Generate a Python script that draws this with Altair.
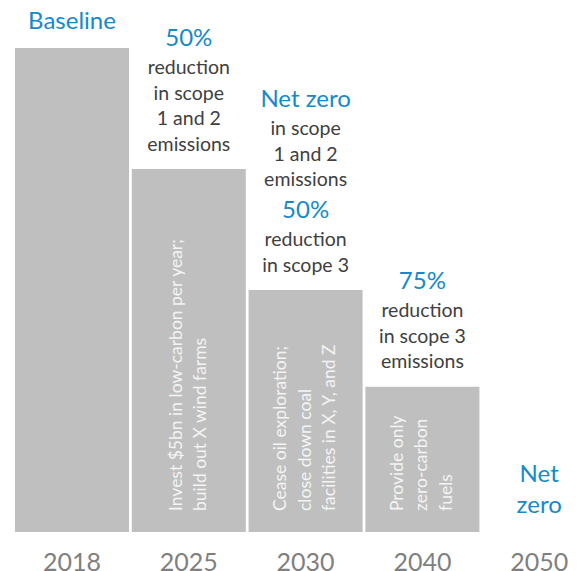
import altair as alt
import pandas as pd

FONT = "Lato"

years = ["2018", "2025", "2030", "2040", "2050"]
values = [100, 75, 50, 30, 0]

bar_lines_2025 = ["Invest $5bn in low-carbon per year;", "build out X wind farms"]
bar_lines_2030 = ["Cease oil exploration;", "close down coal", "facilities in X, Y, and Z"]
bar_lines_2040 = ["Provide only", "zero-carbon", "fuels"]

note_2018 = [("Baseline", "hl")]
note_2025 = [("50%", "hl"), ("reduction", "tx"), ("in scope", "tx"), ("1 and 2", "tx"), ("emissions", "tx")]
note_2030 = [("Net zero", "hl"), ("in scope", "tx"), ("1 and 2", "tx"), ("emissions", "tx"),
             ("50%", "hl"), ("reduction", "tx"), ("in scope 3", "tx")]
note_2040 = [("75%", "hl"), ("reduction", "tx"), ("in scope 3", "tx"), ("emissions", "tx")]
note_2050 = [("Net", "hl"), ("zero", "hl")]

BAR = "#bfbfbf"
BLUE = "#1589c9"
DARK = "#404040"
AXIS = "#7f7f7f"
LINE_H = 24.5

bars_df = pd.DataFrame({"year": years, "value": values})

inbar = {"2025": bar_lines_2025, "2030": bar_lines_2030, "2040": bar_lines_2040}

# stack annotation lines upward from the bar top (layout only)
notes = {"2018": note_2018, "2025": note_2025, "2030": note_2030, "2040": note_2040, "2050": note_2050}
rows = []
for y, v in zip(years, values):
    lines = notes[y]
    off = None
    prev_kind = None
    for text, kind in reversed(lines):
        if off is None:
            off = 24.5 if kind == "tx" else 26
        else:
            if kind == "tx" and prev_kind == "tx":
                off += 25.5
            elif kind == "hl" and prev_kind == "tx":
                off += 29
            else:
                off += 31
        rows.append({"year": y, "value": v, "text": text,
                     "color": BLUE if kind == "hl" else DARK,
                     "size": 24 if kind == "hl" else 19.5,
                     "off": off})
        prev_kind = kind
notes_df = pd.DataFrame(rows)

xenc = alt.X("year:N", sort=years,
             scale=alt.Scale(range=[0, 581.2], paddingInner=0.024, paddingOuter=0),
             axis=alt.Axis(title=None, labelAngle=0, domain=False, ticks=False, tickSize=0,
                           labelFontSize=25, labelColor=AXIS, labelFont=FONT,
                           labelPadding=30, labelBaseline="middle", grid=False))
yscale = alt.Scale(domain=[0, 100], nice=False, zero=True)

bars = alt.Chart(bars_df).mark_bar(color=BAR).encode(
    x=xenc,
    y=alt.Y("value:Q", scale=yscale, axis=None),
)

layers = [bars]
for yr, lines in inbar.items():
    df = pd.DataFrame({"year": [yr], "label": ["\n".join(lines)]})
    layers.append(
        alt.Chart(df).mark_text(
            angle=270, align="left", baseline="middle", lineBreak="\n", lineHeight=LINE_H,
            fontSize=17.5, color="#f4f4f4", font=FONT, dx=21,
            dy=-(len(lines) - 1) / 2 * LINE_H,
        ).encode(
            x=alt.X("year:N", sort=years),
            y=alt.Y(datum=0, scale=yscale),
            text="label:N",
        )
    )

for off in sorted(notes_df["off"].unique()):
    sub = notes_df[notes_df["off"] == off]
    layers.append(
        alt.Chart(sub).mark_text(baseline="middle", align="center", font=FONT, dy=-float(off)).encode(
            x=alt.X("year:N", sort=years),
            y=alt.Y("value:Q", scale=yscale),
            text="text:N",
            color=alt.Color("color:N", scale=None),
            size=alt.Size("size:Q", scale=None),
        )
    )

chart = alt.layer(*layers).properties(
    width=566, height=484,
    padding={"left": 15, "top": 48, "right": 0, "bottom": 46},
    autosize=alt.AutoSizeParams(type="none"),
    background="white",
).configure_view(stroke=None)

chart.save("out.html", embed_options={"renderer": "svg", "actions": False})
